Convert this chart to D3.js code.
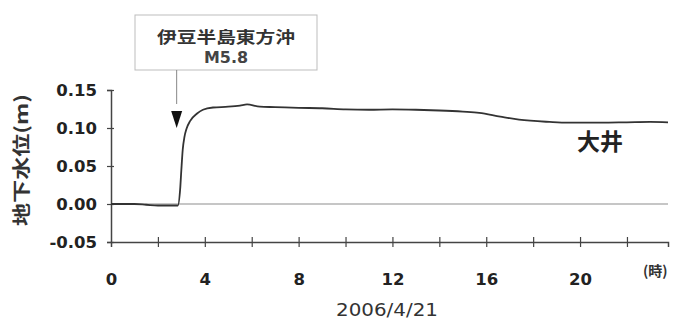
<!DOCTYPE html>
<html>
<head>
<meta charset="utf-8">
<script src="https://cdn.jsdelivr.net/npm/d3@7/dist/d3.min.js"></script>
<style>
  html, body { margin: 0; padding: 0; background: #fff; }
  svg { display: block; }
</style>
</head>
<body>
<svg id="chart" width="677" height="322"></svg>
<script>
// Groundwater level at Ōi, 2006/4/21 (hours from midnight, metres)
const hours = [0, 0.5, 1.0, 1.5, 2.0, 2.5, 2.85, 2.95, 3.0, 3.06, 3.13, 3.22, 3.37, 3.67, 3.92, 4.35, 5.0, 5.5, 5.8, 6.35, 7, 8, 9, 10, 11, 12, 13, 14, 15, 15.7, 16.6, 17.4, 18.7, 19.5, 20.9, 22, 23, 23.75];
const level = [0.000, 0.000, 0.000, -0.001, -0.002, -0.002, -0.002, 0.020, 0.045, 0.072, 0.088, 0.099, 0.109, 0.119, 0.124, 0.127, 0.128, 0.1295, 0.131, 0.128, 0.1275, 0.1265, 0.126, 0.1245, 0.124, 0.1245, 0.124, 0.123, 0.1215, 0.120, 0.115, 0.111, 0.108, 0.107, 0.107, 0.1075, 0.108, 0.1075];

const yTicks = [-0.05, 0.00, 0.05, 0.10, 0.15];
const xTicks = [0, 2, 4, 6, 8, 10, 12, 14, 16, 18, 20, 22];
const xLabelled = [0, 4, 8, 12, 16, 20];

const quakeHour = 2.8;
const quakeName = "伊豆半島東方沖";
const quakeMag = "M5.8";
const stationName = "大井";
const dateLabel = "2006/4/21";
const yTitle = "地下水位(m)";
const xUnit = "(時)";

const svg = d3.select("#chart");
const x = d3.scaleLinear().domain([0, 23.75]).range([111, 668]);
const y = d3.scaleLinear().domain([-0.05, 0.15]).range([242, 90]);

const numFont = "'DejaVu Sans', 'Liberation Sans', sans-serif";
const cjkFont = "'Noto Sans CJK JP', 'Noto Sans', sans-serif";

// zero reference line
svg.append("line")
  .attr("x1", x(0)).attr("x2", x(23.75))
  .attr("y1", y(0)).attr("y2", y(0))
  .attr("stroke", "#c6c6c6").attr("stroke-width", 2);

// y axis (plain hyphen for negatives)
const fmt = d3.format(".2f");
const yAxis = svg.append("g")
  .attr("transform", `translate(${x(0)},0)`)
  .call(d3.axisLeft(y).tickValues(yTicks).tickSize(4).tickPadding(10)
    .tickFormat(d => fmt(d).replace("\u2212", "-")));
yAxis.select(".domain").attr("stroke", "#444").attr("stroke-width", 1.5);
yAxis.selectAll(".tick line").attr("stroke", "#444").attr("stroke-width", 1.2)
  .attr("x1", 3).attr("x2", -4);
yAxis.selectAll(".tick text")
  .attr("font-family", numFont).attr("font-weight", "bold")
  .attr("font-size", 16.5).attr("fill", "#222");

// x axis
const xAxis = svg.append("g")
  .attr("transform", `translate(0,${y(-0.05)})`)
  .call(d3.axisBottom(x).tickValues(xTicks).tickSize(5).tickPadding(20)
    .tickFormat(d => xLabelled.includes(d) ? d : ""));
xAxis.select(".domain").attr("stroke", "#444").attr("stroke-width", 1.5);
xAxis.selectAll(".tick line").attr("stroke", "#444").attr("stroke-width", 1.2)
  .attr("y1", -5).attr("y2", 5)
  .filter(d => d === 0).remove();
xAxis.selectAll(".tick text")
  .attr("font-family", numFont).attr("font-weight", "bold")
  .attr("font-size", 16.5).attr("fill", "#222")
  .attr("dy", 0).attr("y", 43);

// series line
const line = d3.line()
  .x((d, i) => x(hours[i]))
  .y(d => y(d))
  .curve(d3.curveMonotoneX);
svg.append("path")
  .datum(level)
  .attr("d", line)
  .attr("fill", "none")
  .attr("stroke", "#333")
  .attr("stroke-width", 1.8);

// earthquake annotation
svg.append("rect")
  .attr("x", 135).attr("y", 15).attr("width", 182).attr("height", 55)
  .attr("fill", "#fff").attr("stroke", "#bdbdbd").attr("stroke-width", 1);
svg.append("text")
  .attr("x", 226).attr("y", 43).attr("text-anchor", "middle")
  .attr("font-family", cjkFont).attr("font-weight", "bold")
  .attr("font-size", 16).attr("fill", "#333")
  .attr("textLength", 138).attr("lengthAdjust", "spacingAndGlyphs")
  .text(quakeName);
svg.append("text")
  .attr("x", 226).attr("y", 63).attr("text-anchor", "middle")
  .attr("font-family", numFont).attr("font-weight", "bold")
  .attr("font-size", 16).attr("fill", "#444")
  .attr("textLength", 44).attr("lengthAdjust", "spacingAndGlyphs")
  .text(quakeMag);
const qx = x(quakeHour);
svg.append("line")
  .attr("x1", qx).attr("x2", qx).attr("y1", 70).attr("y2", 104)
  .attr("stroke", "#888").attr("stroke-width", 1);
svg.append("path")
  .attr("d", `M${qx - 5.5},111 L${qx + 5.5},111 L${qx},128 Z`)
  .attr("fill", "#111");

// station label
svg.append("text")
  .attr("x", 600).attr("y", 150).attr("text-anchor", "middle")
  .attr("font-family", cjkFont).attr("font-weight", "bold")
  .attr("font-size", 23).attr("fill", "#222")
  .text(stationName);

// unit label for hours
svg.append("text")
  .attr("x", 643).attr("y", 276)
  .attr("font-family", cjkFont).attr("font-weight", "bold")
  .attr("font-size", 14).attr("fill", "#333")
  .text(xUnit);

// date label
svg.append("text")
  .attr("x", 387).attr("y", 316).attr("text-anchor", "middle")
  .attr("font-family", numFont)
  .attr("font-size", 17).attr("fill", "#333")
  .attr("textLength", 102).attr("lengthAdjust", "spacingAndGlyphs")
  .text(dateLabel);

// y axis title
svg.append("text")
  .attr("transform", "translate(28,160) rotate(-90)")
  .attr("text-anchor", "middle")
  .attr("font-family", cjkFont).attr("font-weight", "bold")
  .attr("font-size", 18).attr("fill", "#333")
  .attr("textLength", 132).attr("lengthAdjust", "spacingAndGlyphs")
  .text(yTitle);
</script>
</body>
</html>
